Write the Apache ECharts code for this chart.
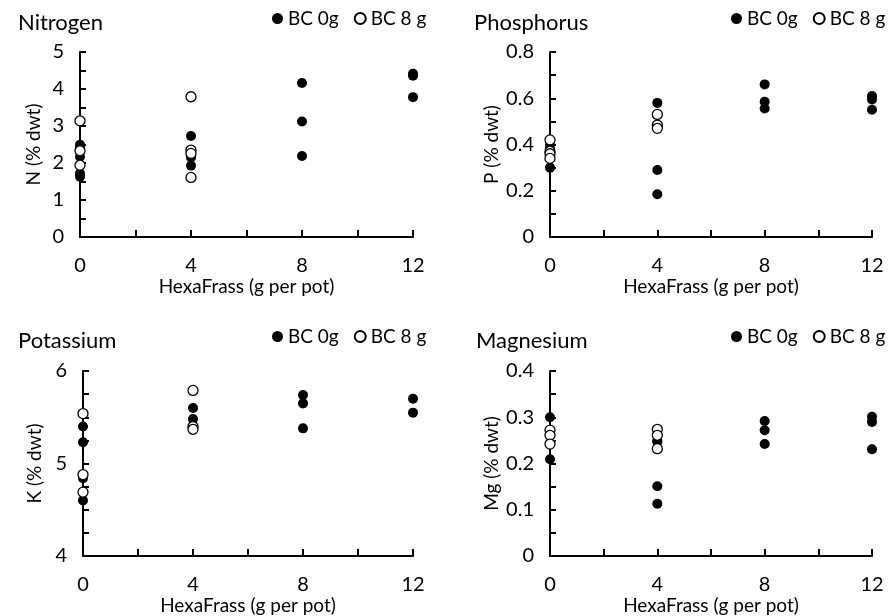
<!DOCTYPE html>
<html>
<head>
<meta charset="utf-8">
<title>Nutrient content</title>
<script src="https://cdn.jsdelivr.net/npm/echarts@6/dist/echarts.min.js"></script>
<style>
    html, body { margin: 0; padding: 0; background: #fff; }
    #main { width: 890px; height: 616px; }
</style>
</head>
<body>
<div id="main"></div>
<script>
// x ticks (HexaFrass g per pot)
let xTicks = [0, 4, 8, 12];
let legendNames = ['BC 0g', 'BC 8 g'];
let panelTitles = ['Nitrogen', 'Phosphorus', 'Potassium', 'Magnesium'];
let yNames = ['N (% dwt)', 'P (% dwt)', 'K (% dwt)', 'Mg (% dwt)'];
let yMin = [0, 0, 4, 0];
let yMax = [5, 0.8, 6, 0.4];
let yStep = [1, 0.2, 1, 0.1];

// [HexaFrass, % dwt]
let nitrogenBC0 = [[0, 2.49], [0, 2.42], [0, 2.17], [0, 1.72], [0, 1.63],
    [4, 2.73], [4, 2.15], [4, 1.93],
    [8, 4.16], [8, 3.12], [8, 2.19],
    [12, 4.41], [12, 4.36], [12, 3.78]];
let nitrogenBC8 = [[0, 3.14], [0, 2.33], [0, 1.94],
    [4, 3.79], [4, 2.35], [4, 2.26], [4, 1.61]];

let phosphorusBC0 = [[0, 0.40], [0, 0.38], [0, 0.30],
    [4, 0.58], [4, 0.29], [4, 0.185],
    [8, 0.66], [8, 0.585], [8, 0.556],
    [12, 0.61], [12, 0.595], [12, 0.55]];
let phosphorusBC8 = [[0, 0.42], [0, 0.37], [0, 0.36], [0, 0.34],
    [4, 0.53], [4, 0.484], [4, 0.47]];

let potassiumBC0 = [[0, 5.40], [0, 5.23], [0, 4.84], [0, 4.60],
    [4, 5.60], [4, 5.48],
    [8, 5.74], [8, 5.65], [8, 5.38],
    [12, 5.70], [12, 5.55]];
let potassiumBC8 = [[0, 5.54], [0, 4.88], [0, 4.69],
    [4, 5.79], [4, 5.40], [4, 5.37]];

let magnesiumBC0 = [[0, 0.30], [0, 0.209],
    [4, 0.25], [4, 0.247], [4, 0.151], [4, 0.113],
    [8, 0.292], [8, 0.272], [8, 0.242],
    [12, 0.301], [12, 0.29], [12, 0.231]];
let magnesiumBC8 = [[0, 0.272], [0, 0.261], [0, 0.242],
    [4, 0.274], [4, 0.261], [4, 0.232]];

let filledData = [nitrogenBC0, phosphorusBC0, potassiumBC0, magnesiumBC0];
let openData = [nitrogenBC8, phosphorusBC8, potassiumBC8, magnesiumBC8];

// layout of the four panels
let grids = [
    {left: 80, top: 52, width: 333, height: 185},
    {left: 550, top: 52, width: 322, height: 185},
    {left: 83, top: 371, width: 330, height: 185},
    {left: 550, top: 371, width: 322, height: 185}
];
let yNameGap = [37, 49, 39, 49];
let minorSplit = [2, 2, 4, 2];
let titlePos = [[18, 12], [474, 12], [18, 330], [476, 330]];
let legendPos = [[272, 9], [731, 9], [272, 327], [731, 327]];

let font = 'Lato, "Open Sans", sans-serif';
let black = '#000';

let myChart = echarts.init(document.getElementById('main'), null, {renderer: 'canvas'});

let option = {
    backgroundColor: '#fff',
    animation: false,
    textStyle: {fontFamily: font, color: black},
    title: [],
    legend: [],
    grid: [],
    xAxis: [],
    yAxis: [],
    series: []
};

for (let i = 0; i < 4; i++) {
    option.title.push({
        text: panelTitles[i],
        left: titlePos[i][0],
        top: titlePos[i][1],
        padding: 0,
        textStyle: {fontFamily: font, fontSize: 22, fontWeight: 'normal', color: black}
    });

    option.legend.push({
        data: legendNames,
        left: legendPos[i][0],
        top: legendPos[i][1],
        padding: 0,
        itemWidth: 11,
        itemHeight: 11,
        itemGap: 15,
        textStyle: {fontFamily: font, fontSize: 19, color: black}
    });

    option.grid.push(Object.assign({containLabel: false}, grids[i]));

    option.xAxis.push({
        type: 'value',
        gridIndex: i,
        min: xTicks[0],
        max: xTicks[xTicks.length - 1],
        interval: xTicks[1] - xTicks[0],
        name: 'HexaFrass (g per pot)',
        nameLocation: 'middle',
        nameGap: 37,
        nameTextStyle: {fontFamily: font, fontSize: 19, color: black},
        axisLine: {onZero: false, lineStyle: {color: black, width: 2}},
        axisTick: {show: true, inside: true, length: 7, lineStyle: {color: black, width: 2}},
        minorTick: {show: true, splitNumber: 2, length: 7, lineStyle: {color: black, width: 2}},
        axisLabel: {fontFamily: font, fontSize: 20, color: black, margin: 19},
        splitLine: {show: false}
    });

    option.yAxis.push({
        type: 'value',
        gridIndex: i,
        min: yMin[i],
        max: yMax[i],
        interval: yStep[i],
        name: yNames[i],
        nameLocation: 'middle',
        nameGap: yNameGap[i],
        nameTextStyle: {fontFamily: font, fontSize: 19, color: black},
        axisLine: {show: true, onZero: false, lineStyle: {color: black, width: 2}},
        axisTick: {show: true, inside: true, length: 6, lineStyle: {color: black, width: 2}},
        minorTick: {show: true, splitNumber: minorSplit[i], length: 6, lineStyle: {color: black, width: 2}},
        axisLabel: {fontFamily: font, fontSize: 20, color: black, margin: 16},
        splitLine: {show: false}
    });

    // BC 0g: filled dots
    option.series.push({
        name: legendNames[0],
        type: 'scatter',
        xAxisIndex: i,
        yAxisIndex: i,
        symbol: 'circle',
        symbolSize: 10,
        clip: false,
        itemStyle: {color: black, opacity: 1},
        data: filledData[i]
    });
    // BC 8 g: open circles
    option.series.push({
        name: legendNames[1],
        type: 'scatter',
        xAxisIndex: i,
        yAxisIndex: i,
        symbol: 'circle',
        symbolSize: 10,
        clip: false,
        itemStyle: {color: '#fff', borderColor: black, borderWidth: 1.3, opacity: 1},
        data: openData[i]
    });
}

myChart.setOption(option);
</script>
</body>
</html>
